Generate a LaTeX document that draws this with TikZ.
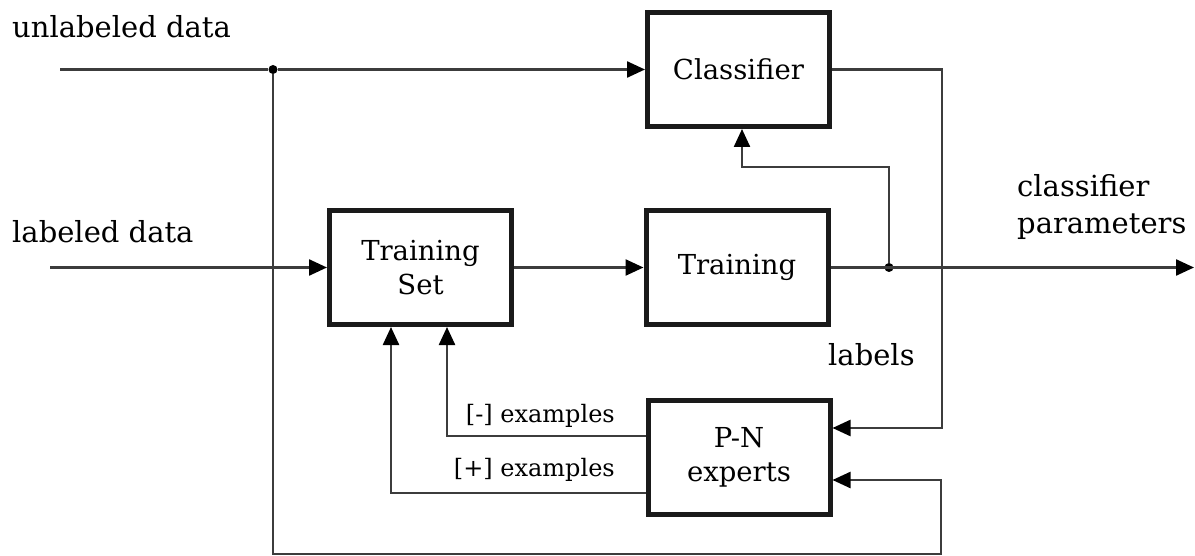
\documentclass[tikz,border=0pt]{standalone}
\usepackage{fontspec}
\setmainfont{DejaVu Serif}
\usetikzlibrary{arrows.meta,calc}
\definecolor{linegray}{HTML}{3C3C3C}
\definecolor{boxblack}{HTML}{1A1A1A}
\begin{document}
\begin{tikzpicture}[x=1pt,y=-1pt,
  blockbox/.style={draw=boxblack,line width=5pt,minimum width=182pt,minimum height=114pt,
    inner sep=0pt,align=center,font=\fontsize{27.5}{34}\selectfont,text=black},
  conn/.style={draw=linegray,line width=2.4pt},
  arr/.style={conn,-{Triangle[length=18pt,width=16pt,color=black]}},
  bigtext/.style={font=\fontsize{29}{34}\selectfont,inner sep=0pt,text=black},
  smalltext/.style={font=\fontsize{24}{28}\selectfont,inner sep=0pt,text=black},
  junction/.style={circle,fill=black,inner sep=0pt,minimum size=9pt}]
\useasboundingbox (0,0) rectangle (1195,556);

% blocks
\node[blockbox] (Cl) at (738.5,69.5) {Classifier};
\node[blockbox] (TS) at (420.5,267.5) {Training\\Set};
\node[blockbox] (Tr) at (737,267.5) {Training};
\node[blockbox] (PN) at (739,457.5) {P-N\\experts};

% free ends and corners
\coordinate (u0) at (60,69.5);
\coordinate (l0) at (50,267.5);
\coordinate (outp) at (1194,267.5);
\coordinate (bot) at (941,554);
\coordinate (rc) at (942,428);
\coordinate (k) at (742,167);
\node[junction] (j1) at (273,69.5) {};
\node[junction] (j2) at (889,267.5) {};

% texts
\node[bigtext,anchor=base west] (tU) at (12,38) {unlabeled data};
\node[bigtext,anchor=base west] (tL) at (12,243) {labeled data};
\node[bigtext,anchor=base west] (tC) at (1017,197) {classifier};
\node[bigtext,anchor=base west] (tP) at (1017,234) {parameters};
\node[bigtext,anchor=base west] (tLab) at (828,365) {labels};
\node[smalltext,anchor=base east] (tN) at (615,422) {[-] examples};
\node[smalltext,anchor=base east] (tPl) at (615,476) {[+] examples};

% connectors
\draw[conn] (u0) -- (j1);
\draw[arr] (j1) -- (Cl.west);
\draw[arr] (j1) |- (bot) |- ([yshift=-22.5pt]PN.east);
\draw[arr] (l0) -- (TS.west);
\draw[arr] (TS.east) -- (Tr.west);
\draw[arr] (Tr.east) -- (outp);
\draw[arr] (j2) |- (k) -- (k |- Cl.south);
\draw[arr] (Cl.east) -| (rc) -- ([yshift=29.5pt]PN.east);
\draw[arr] ([yshift=21.5pt]PN.west) -| ([xshift=26.5pt]TS.south);
\draw[arr] ([yshift=-35.5pt]PN.west) -| ([xshift=-29.5pt]TS.south);
\end{tikzpicture}
\end{document}
